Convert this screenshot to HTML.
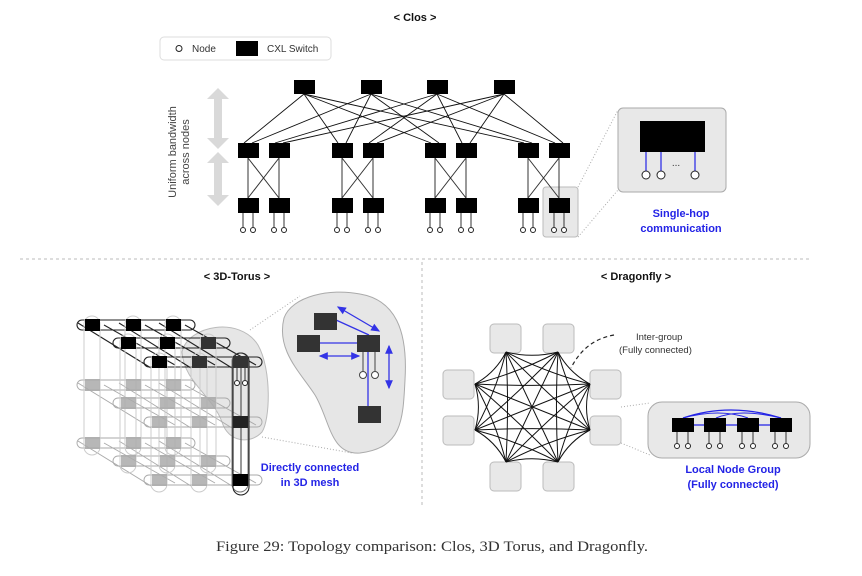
<!DOCTYPE html>
<html><head><meta charset="utf-8"><style>
html,body{margin:0;padding:0;background:#fff}
svg{display:block}
text{font-family:"Liberation Sans",sans-serif}
</style></head><body>
<svg id="s" width="862" height="576" viewBox="0 0 862 576" xmlns="http://www.w3.org/2000/svg">
<g id="g"></g>
<text x="415" y="21" font-size="11" font-weight="bold" text-anchor="middle" fill="#111">&lt; Clos &gt;</text>
<text x="237" y="280" font-size="11" font-weight="bold" text-anchor="middle" fill="#111">&lt; 3D-Torus &gt;</text>
<text x="636" y="280" font-size="11" font-weight="bold" text-anchor="middle" fill="#111">&lt; Dragonfly &gt;</text>
<rect x="160" y="37" width="171" height="23" rx="4" fill="#fff" stroke="#ddd"/>
<circle cx="179" cy="48.5" r="3" fill="none" stroke="#222" stroke-width="1"/>
<text x="192" y="52" font-size="10" fill="#333">Node</text>
<rect x="236" y="41" width="22" height="15" fill="#000"/>
<text x="267" y="52" font-size="10" fill="#333">CXL Switch</text>
<text transform="translate(176,152) rotate(-90)" font-size="11" text-anchor="middle" fill="#444">Uniform bandwidth</text>
<text transform="translate(189,152) rotate(-90)" font-size="11" text-anchor="middle" fill="#444">across nodes</text>
<text x="681" y="217" font-size="11" font-weight="bold" text-anchor="middle" fill="#2323e6">Single-hop</text>
<text x="681" y="232" font-size="11" font-weight="bold" text-anchor="middle" fill="#2323e6">communication</text>
<text x="310" y="471" font-size="11" font-weight="bold" text-anchor="middle" fill="#2323e6">Directly connected</text>
<text x="310" y="486" font-size="11" font-weight="bold" text-anchor="middle" fill="#2323e6">in 3D mesh</text>
<text x="733" y="473" font-size="11" font-weight="bold" text-anchor="middle" fill="#2323e6">Local Node Group</text>
<text x="733" y="488" font-size="11" font-weight="bold" text-anchor="middle" fill="#2323e6">(Fully connected)</text>
<text x="636" y="340" font-size="9.5" fill="#333">Inter-group</text>
<text x="619" y="353" font-size="9.5" fill="#333">(Fully connected)</text>
<text x="432" y="551" font-size="15" text-anchor="middle" fill="#333" style="font-family:'Liberation Serif',serif" textLength="432" lengthAdjust="spacingAndGlyphs">Figure 29: Topology comparison: Clos, 3D Torus, and Dragonfly.</text>
</svg>
<script>
(function(){
var g=document.getElementById('g'),o='';
function L(x1,y1,x2,y2,c,w,extra){o+='<line x1="'+x1+'" y1="'+y1+'" x2="'+x2+'" y2="'+y2+'" stroke="'+(c||'#000')+'" stroke-width="'+(w||1)+'" '+(extra||'')+'/>';}
function R(x,y,w,h,f,extra){o+='<rect x="'+x+'" y="'+y+'" width="'+w+'" height="'+h+'" fill="'+f+'" '+(extra||'')+'/>';}
function C(x,y,r,s,extra){o+='<circle cx="'+x+'" cy="'+y+'" r="'+r+'" fill="#fff" stroke="'+(s||'#222')+'" stroke-width="1" '+(extra||'')+'/>';}
function P(d,extra){o+='<path d="'+d+'" '+extra+'/>';}
L(20,259,810,259,'#bbb',1,'stroke-dasharray="3,3"');
L(422,262,422,505,'#bbb',1,'stroke-dasharray="3,3"');
function garrow(x,y1,y2){P('M'+x+' '+y1+' L'+(x-11)+' '+(y1+11)+' L'+(x-4)+' '+(y1+11)+' L'+(x-4)+' '+(y2-11)+' L'+(x-11)+' '+(y2-11)+' L'+x+' '+y2+' L'+(x+11)+' '+(y2-11)+' L'+(x+4)+' '+(y2-11)+' L'+(x+4)+' '+(y1+11)+' L'+(x+11)+' '+(y1+11)+' Z','fill="#d9d9d9"');}
garrow(218,88,149);garrow(218,152,206);
var topX=[304,371,437,504];
var mid=[248,279,342,373,435,466,528,559];
R(543,187,35,50,'#e8e8e8','rx="3" stroke="#bbb"');
for(var i=0;i<4;i++)for(var p=0;p<4;p++){var m=mid[p*2+(i<2?0:1)];L(topX[i],94,m+(i%2?4:-4),143,'#111',0.9);}
for(var p=0;p<4;p++){var a=mid[p*2],b=mid[p*2+1];L(a,158,a,198,'#333');L(b,158,b,198,'#333');L(a,158,b,198,'#333');L(b,158,a,198,'#333');}
topX.forEach(function(x){R(x-10,80,21,14,'#000');});
mid.forEach(function(x){R(x-10,143,21,15,'#000');R(x-10,198,21,15,'#000');L(x-5,213,x-5,227,'#333');L(x+5,213,x+5,227,'#333');C(x-5,230,2.5);C(x+5,230,2.5);});
L(578,187,618,110,'#aaa',1,'stroke-dasharray="1,2"');L(578,237,618,190,'#aaa',1,'stroke-dasharray="1,2"');
R(618,108,108,84,'#e8e8e8','rx="5" stroke="#aaa"');
R(640,121,65,31,'#000');
[646,661,695].forEach(function(x){L(x,152,x,171,'#3333e6',1.3);C(x,175,4);});
o+='<text x="676" y="166" font-size="10" text-anchor="middle" fill="#333">...</text>';
var rowsX=[[92,133,173],[128,167,208],[159,199,240]];
var rowY=[325,343,362];
var layers=[0,60,118];
P('M182 352 C188 325 240 316 258 345 C272 370 270 420 262 432 C250 445 228 442 222 422 C212 395 184 382 182 352 Z','fill="#e6e6e6" stroke="#bbb"');
for(var l=2;l>=0;l--){
 var col=l==0?'#222':'#aaa',wd=l==0?1.1:0.9;
 for(var r=0;r<3;r++){var y=rowY[r]+layers[l];var x0=rowsX[r][0]-15,x1=rowsX[r][2]+22;
  R(x0,y-5,x1-x0,10,'none','rx="5" stroke="'+col+'" stroke-width="'+wd+'"');}
 for(var c=0;c<3;c++){var xs=rowsX[0][c],xe=rowsX[2][c];var y0=rowY[0]+layers[l],y1=rowY[2]+layers[l];
  L(xs-14,y0-2,xe-8,y1+6,col,wd);L(xs+12,y0,xe+16,y1+3,col,wd);}
}
for(var r=0;r<3;r++)for(var c=0;c<3;c++){var x=rowsX[r][c];
 var cc=(r==2&&c==2)?'#777':'#ccc';
 R(x-8,rowY[r]-9,16,layers[2]+21,'none','rx="8" stroke="'+cc+'" stroke-width="1"');}
R(233,353,16,142,'none','rx="8" stroke="#222" stroke-width="1.1"');
L(241,365,241,480,'#555',1.2);
for(var l=2;l>=0;l--)for(var r=0;r<3;r++)for(var c=0;c<3;c++){var x=rowsX[r][c],y=rowY[r]+layers[l];
 var f;if(l==0){f=(r==0||(c<2&&r<2)||(r==2&&c==0))?'#000':'#333';}else{f=(r==2&&c==2)?'#222':'#aaa';}
 if(l==2&&r==2&&c==2)f='#000';
 R(x-7,y-6,15,12,f,(l>0&&!(r==2&&c==2))?'opacity="0.85"':'');}
L(237,368,237,380,'#333');L(245,368,245,380,'#333');C(237,383,2.5);C(245,383,2.5);
L(250,330,300,296,'#aaa',1,'stroke-dasharray="1,2"');L(262,437,352,453,'#aaa',1,'stroke-dasharray="1,2"');
P('M284 318 C292 296 330 288 360 294 C395 300 408 330 405 380 C403 420 402 448 360 453 C330 455 330 420 315 395 C300 372 276 350 284 318 Z','fill="#e6e6e6" stroke="#aaa"');
L(336,320,369,335,'#3333e6',1.3);L(320,343,358,343,'#3333e6',1.3);L(368,352,368,407,'#3333e6',1.3);
L(363,352,363,371,'#444');L(375,352,375,371,'#444');C(363,375,3.5,'#444');C(375,375,3.5,'#444');
R(314,313,23,17,'#333');R(297,335,23,17,'#333');R(357,335,23,17,'#333');R(358,406,23,17,'#333');
o+='<defs><marker id="ah" markerWidth="8" markerHeight="8" refX="6" refY="3" orient="auto-start-reverse"><path d="M0 0 L7 3 L0 6 Z" fill="#3333e6"/></marker></defs>';
L(338,307,379,331,'#3333e6',1.3,'marker-start="url(#ah)" marker-end="url(#ah)"');
L(320,356,359,356,'#3333e6',1.3,'marker-start="url(#ah)" marker-end="url(#ah)"');
L(389,346,389,388,'#3333e6',1.3,'marker-start="url(#ah)" marker-end="url(#ah)"');
var boxes=[[490,324],[543,324],[443,370],[443,416],[590,370],[590,416],[490,462],[543,462]];
var pts=[[506,352],[558,352],[475,384],[475,430],[590,384],[590,430],[506,462],[558,462]];
boxes.forEach(function(b){R(b[0],b[1],31,29,'#e8e8e8','rx="4" stroke="#bbb"');});
for(var i=0;i<8;i++)for(var j=i+1;j<8;j++){var a=pts[i],b=pts[j],mx=(a[0]+b[0])/2,my=(a[1]+b[1])/2,dx=532-mx,dy=407-my;
 P('M'+a[0]+' '+a[1]+' Q'+(mx+dx*0.12)+' '+(my+dy*0.12)+' '+b[0]+' '+b[1],'fill="none" stroke="#111" stroke-width="1"');}
P('M614 335 Q585 340 571 368','fill="none" stroke="#222" stroke-width="1.2" stroke-dasharray="4,3"');
L(621,407,650,403,'#aaa',1,'stroke-dasharray="1,2"');L(621,443,650,455,'#aaa',1,'stroke-dasharray="1,2"');
R(648,402,162,56,'#e8e8e8','rx="14" stroke="#aaa"');
P('M683 418 Q730 402 781 418','fill="none" stroke="#2323e6" stroke-width="1.3"');
P('M716 418 Q740 408 781 418','fill="none" stroke="#2323e6" stroke-width="1"');
P('M683 418 Q720 408 748 418','fill="none" stroke="#2323e6" stroke-width="1"');
L(694,425,770,425,'#2323e6',1.2);
[672,704,737,770].forEach(function(x){R(x,418,22,14,'#000');L(x+5,432,x+5,443,'#333');L(x+16,432,x+16,443,'#333');C(x+5,446,2.5);C(x+16,446,2.5);});
g.innerHTML=o;
})();
</script>
</body></html>
